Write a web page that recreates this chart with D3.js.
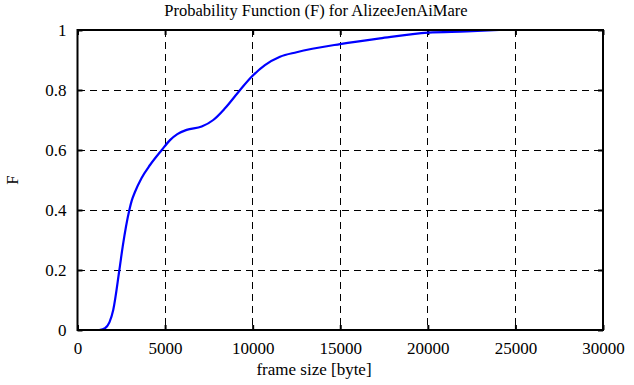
<!DOCTYPE html>
<html>
<head>
<meta charset="utf-8">
<script src="https://cdn.jsdelivr.net/npm/d3@7"></script>
<style>
  body { margin: 0; background: #fff; }
  text { font-family: "Liberation Serif", "DejaVu Serif", serif; fill: #000; }
</style>
</head>
<body>
<script>
// CDF
const frameSize = [1240, 1570, 2040, 2390, 2580, 2960, 3100, 3280, 3660, 4140, 4810, 5280, 5700, 6230, 7090, 7750, 8420, 9280, 9940, 10700, 11560, 12510, 14990, 17270, 20030, 22220, 24080];
const probF = [0, 0.006, 0.067, 0.2, 0.278, 0.4, 0.432, 0.46, 0.507, 0.55, 0.6, 0.633, 0.653, 0.667, 0.678, 0.70, 0.739, 0.8, 0.844, 0.883, 0.911, 0.926, 0.953, 0.972, 0.991, 0.995, 1.0];
const xTicks = [0, 5000, 10000, 15000, 20000, 25000, 30000];
const yTicks = [0, 0.2, 0.4, 0.6, 0.8, 1];

const W = 634, H = 385;
const margin = { top: 30, right: 31, bottom: 55, left: 77.5 };
const width = W - margin.left - margin.right;
const height = H - margin.top - margin.bottom;

const svg = d3.select('body').append('svg').attr('width', W).attr('height', H);
const g = svg.append('g').attr('transform', `translate(${margin.left},${margin.top})`);

const x = d3.scaleLinear().domain([0, 30000]).range([0, width]);
const y = d3.scaleLinear().domain([0, 1]).range([height, 0]);

// grid
g.selectAll('.gx').data(xTicks.slice(1, -1)).enter().append('line')
  .attr('x1', d => x(d)).attr('x2', d => x(d)).attr('y1', 0).attr('y2', height)
  .attr('stroke', '#000').attr('stroke-width', 1).attr('stroke-dasharray', '7,5')
  .attr('shape-rendering', 'crispEdges');
g.selectAll('.gy').data(yTicks.slice(1, -1)).enter().append('line')
  .attr('x1', 0).attr('x2', width).attr('y1', d => y(d)).attr('y2', d => y(d))
  .attr('stroke', '#000').attr('stroke-width', 1).attr('stroke-dasharray', '7,5')
  .attr('shape-rendering', 'crispEdges');

// axes with inward ticks
const fmtY = d => d === 0 ? '0' : d === 1 ? '1' : d3.format('.1f')(d);
const xAxis = g.append('g').attr('transform', `translate(0,${height})`)
  .call(d3.axisBottom(x).tickValues(xTicks).tickSize(-5).tickPadding(12).tickFormat(d3.format('d')));
const yAxis = g.append('g')
  .call(d3.axisLeft(y).tickValues(yTicks).tickSize(-5).tickPadding(11).tickFormat(fmtY));
g.append('g').attr('transform', `translate(${width},0)`)
  .call(d3.axisRight(y).tickValues(yTicks).tickSize(-5).tickFormat(''));
g.append('g')
  .call(d3.axisTop(x).tickValues(xTicks).tickSize(-5).tickFormat(''));

g.selectAll('.domain').remove();
g.selectAll('.tick line').attr('stroke', '#000').attr('stroke-width', 2);
xAxis.selectAll('text').style('font-size', '17px');
yAxis.selectAll('text').style('font-size', '17px');

// curve
const line = d3.line().x((d, i) => x(frameSize[i])).y(d => y(d)).curve(d3.curveMonotoneX);
g.append('path').datum(probF).attr('d', line)
  .attr('fill', 'none').attr('stroke', '#0000ff').attr('stroke-width', 2.2);

// frame
g.append('rect').attr('width', width).attr('height', height)
  .attr('fill', 'none').attr('stroke', '#000').attr('stroke-width', 2);

// labels
svg.append('text').attr('x', 316).attr('y', 16).attr('text-anchor', 'middle')
  .style('font-size', '16.5px').text('Probability Function (F) for AlizeeJenAiMare');
svg.append('text').attr('x', 314).attr('y', 375).attr('text-anchor', 'middle')
  .style('font-size', '17px').text('frame size [byte]');
svg.append('text').attr('transform', `translate(18,${margin.top + height / 2}) rotate(-90)`)
  .attr('text-anchor', 'middle').style('font-size', '17px').text('F');
</script>
</body>
</html>
